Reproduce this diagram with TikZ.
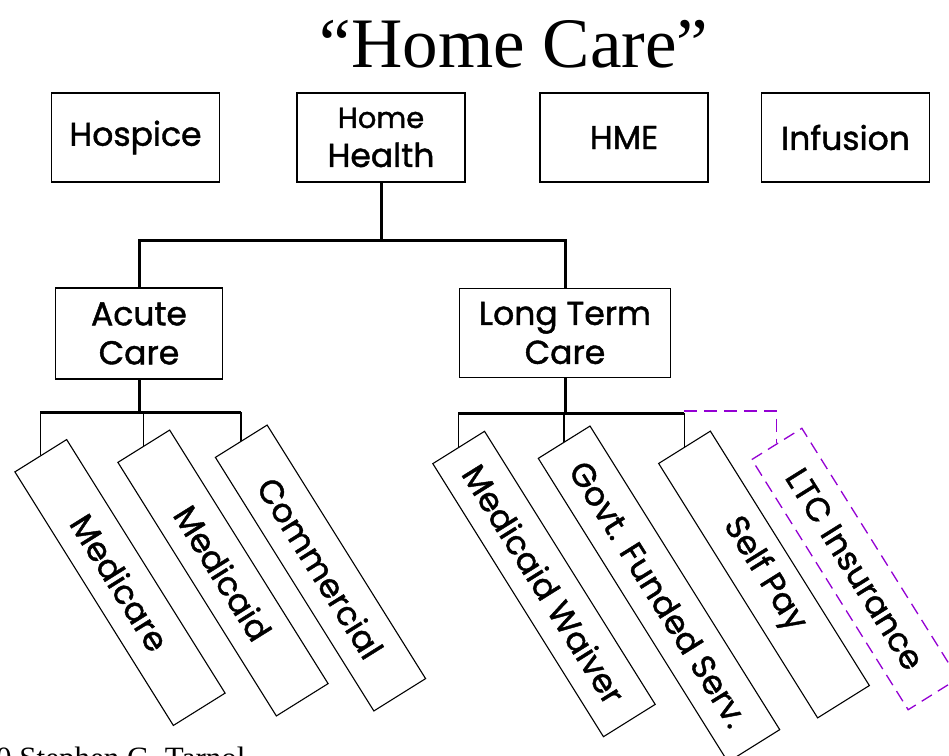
\documentclass[tikz,border=0pt]{standalone}
\usepackage{fontspec}
\setmainfont{Liberation Serif}
\newfontfamily\boxfont{Poppins}[FakeBold=1.3]
\usetikzlibrary{positioning}
\definecolor{ltcviolet}{RGB}{148,0,211}
\tikzset{
  topbox/.style={draw,line width=1.2pt,minimum width=168pt,minimum height=89pt,
                 inner sep=0pt,align=center,font=\boxfont\fontsize{33}{39}\selectfont},
  payer/.style={draw,line width=1.1pt,minimum height=61pt,inner sep=0pt,rotate=-58,
                font=\boxfont\fontsize{33}{38}\selectfont},
  ltcpayer/.style={payer,draw=ltcviolet,line width=1.3pt,dash pattern=on 12pt off 7pt},
  tree/.style={line width=3pt},
  stub/.style={line width=1.3pt},
  optional/.style={draw=ltcviolet,line width=1.8pt,dash pattern=on 13pt off 7pt},
}
\begin{document}
\begin{tikzpicture}[x=1pt,y=-1pt]
  \useasboundingbox (0,0) rectangle (949,755);
  \node[anchor=base,inner sep=0pt,font=\fontsize{71}{80}\selectfont] (title) at (514,67) {``Home Care''};
  % top row
  \node[topbox] (hospice) at (135.5,137.5) {Hospice};
  \node[topbox] (homehealth) at (381,137.5) {{\fontsize{29}{30}\selectfont Home}\\Health};
  \node[topbox] (hme) at (624,137.5) {HME};
  \node[topbox] (infusion) at (845.5,137.5) {Infusion};
  % second level
  \node[topbox,minimum width=167pt,minimum height=91pt] (acute) at (139,333.5) {Acute\\Care};
  \node[topbox,minimum width=211pt] (longterm) at (565,333) {Long Term\\Care};
  % payers
  \node[payer,minimum width=299pt] (medicare)   at (120,582.5) {Medicare};
  \node[payer,minimum width=299pt] (medicaid)   at (223,573)   {Medicaid};
  \node[payer,minimum width=299pt] (commercial) at (320.5,568) {Commercial};
  \node[payer,minimum width=322pt] (waiver)     at (544,584)   {Medicaid Waiver};
  \node[payer,minimum width=358pt] (govt)       at (659,594)   {Govt. Funded Serv.};
  \node[payer,minimum width=300pt] (selfpay)    at (764,574.5) {Self Pay};
  \node[ltcpayer,minimum width=295pt,minimum height=59pt] (ltcins) at (855,569) {LTC Insurance};
  % connectors
  \coordinate (split) at (0,240);
  \coordinate (acutebar) at (0,412);
  \coordinate (ltcbar) at (0,413);
  \draw[tree] (homehealth.south) -- (homehealth.south |- split);
  \draw[tree] (acute.north) |- (split -| homehealth.south) -| (longterm.north);
  \draw[tree] (acute.south) -- (acute.south |- acutebar);
  \draw[tree] (medicare.west |- acutebar) -- (commercial.west |- acutebar);
  \draw[tree] (longterm.south) -- (longterm.south |- ltcbar);
  \draw[tree] (waiver.west |- ltcbar) -- (selfpay.west |- ltcbar);
  \foreach \n/\bar in {medicare/acutebar,medicaid/acutebar,commercial/acutebar,
                       waiver/ltcbar,govt/ltcbar,selfpay/ltcbar}
    {\draw[stub] (\n.west) -- (\n.west |- \bar);}
  \draw[optional] (selfpay.west |- ltcbar) ++(0,-2) -| (ltcins.west);
  \node[anchor=base west,inner sep=0pt,font=\fontsize{31}{36}\selectfont] (credit) at (-4,768) {0 Stephen G. Tarnol};
\end{tikzpicture}
\end{document}
